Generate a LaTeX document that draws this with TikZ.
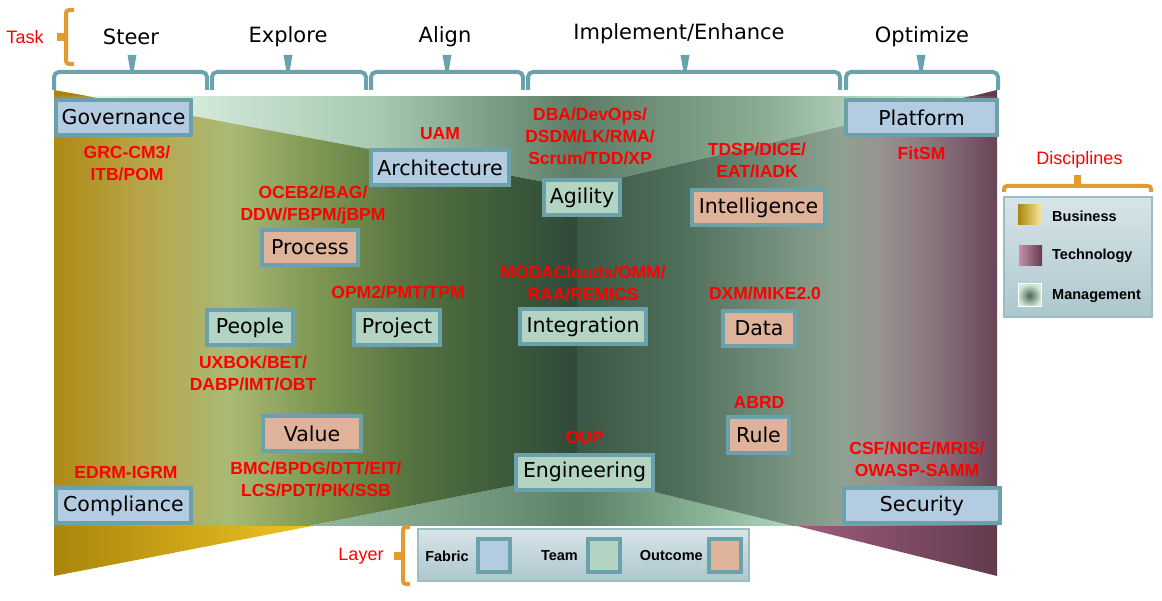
\documentclass[tikz,border=0pt]{standalone}
\usepackage{fontspec}
\setmainfont{DejaVu Sans}
\newfontfamily\methodfont{Liberation Sans}

% layer colours and trims
\definecolor{layerframe}{HTML}{6AA1AB}
\definecolor{fabricblue}{HTML}{B4CCE2}
\definecolor{teamgreen}{HTML}{B3D4C2}
\definecolor{outcomepeach}{HTML}{DFB29A}
\definecolor{braceteal}{HTML}{6BA3AD}
\definecolor{bracketorange}{HTML}{E39B2F}
\definecolor{panelframe}{HTML}{9DBDC5}
\definecolor{goldlight}{HTML}{F0C524}
\definecolor{golddark}{HTML}{A9860B}
\definecolor{plumlight}{HTML}{9E5E7C}
\definecolor{plumdark}{HTML}{633A4E}
\definecolor{rosekey}{HTML}{C48FA7}

% left wall (business)
\definecolor{lwA}{HTML}{AE8A14}
\definecolor{lwB}{HTML}{B8A448}
\definecolor{lwC}{HTML}{A9BA76}
\definecolor{lwD}{HTML}{7C9652}
\definecolor{lwE}{HTML}{52703F}
\definecolor{lwF}{HTML}{3D5C3B}
\definecolor{lwG}{HTML}{30493A}
\pgfdeclarehorizontalshading{leftwall}{100bp}{color(0bp)=(lwA); color(25bp)=(lwA);
  color(33.2bp)=(lwB); color(41.8bp)=(lwC); color(50.4bp)=(lwD); color(60bp)=(lwE);
  color(67.6bp)=(lwF); color(75bp)=(lwG); color(100bp)=(lwG)}
% right wall (technology)
\definecolor{rwA}{HTML}{3B5845}
\definecolor{rwB}{HTML}{4F6E59}
\definecolor{rwC}{HTML}{6D8A76}
\definecolor{rwD}{HTML}{8FA292}
\definecolor{rwE}{HTML}{97938F}
\definecolor{rwF}{HTML}{86707A}
\definecolor{rwG}{HTML}{6A4457}
\pgfdeclarehorizontalshading{rightwall}{100bp}{color(0bp)=(rwA); color(25bp)=(rwA);
  color(37.3bp)=(rwB); color(46.8bp)=(rwC); color(56.3bp)=(rwD); color(61.1bp)=(rwE);
  color(68.2bp)=(rwF); color(75bp)=(rwG); color(100bp)=(rwG)}
% ceiling and floor (management)
\definecolor{clA}{HTML}{EEF6F0}
\definecolor{clB}{HTML}{D2E8D8}
\definecolor{clC}{HTML}{A6C9B0}
\definecolor{clD}{HTML}{5D7D66}
\definecolor{clE}{HTML}{88AB92}
\definecolor{clF}{HTML}{BCD7C3}
\definecolor{clG}{HTML}{D9EBDD}
\pgfdeclarehorizontalshading{ceiling}{100bp}{color(0bp)=(clA); color(25bp)=(clA);
  color(32.7bp)=(clB); color(42.3bp)=(clC); color(52.7bp)=(clD); color(62.4bp)=(clE);
  color(68.8bp)=(clF); color(75bp)=(clG); color(100bp)=(clG)}
\definecolor{flA}{HTML}{B8D4BE}
\definecolor{flB}{HTML}{93B69C}
\definecolor{flC}{HTML}{7A9F84}
\definecolor{flD}{HTML}{5B8166}
\definecolor{flE}{HTML}{86B193}
\definecolor{flF}{HTML}{B2D6BC}
\definecolor{flG}{HTML}{C5E2CC}
\pgfdeclarehorizontalshading{floor}{100bp}{color(0bp)=(flA); color(25bp)=(flA);
  color(38.9bp)=(flB); color(46bp)=(flC); color(52.7bp)=(flD); color(59.2bp)=(flE);
  color(64.2bp)=(flF); color(75bp)=(flG); color(100bp)=(flG)}

\tikzset{
  layerbox/.style={draw=layerframe, line width=4pt, inner xsep=6pt, inner ysep=4pt,
    minimum height=35pt, font=\fontsize{20.5}{24}\selectfont},
  fabric/.style={layerbox, fill=fabricblue},
  team/.style={layerbox, fill=teamgreen},
  outcome/.style={layerbox, fill=outcomepeach},
  method/.style={text=red, align=center, inner sep=0pt,
    font=\methodfont\bfseries\fontsize{17.5}{22}\selectfont},
  heading/.style={font=\fontsize{21}{25}\selectfont},
  keylabel/.style={text=red, font=\methodfont\fontsize{18}{22}\selectfont},
  legendtext/.style={inner sep=0pt, font=\methodfont\bfseries\fontsize{14.5}{17}\selectfont},
  keyswatch/.style={draw=layerframe, line width=4pt, minimum width=32pt,
    minimum height=33pt, inner sep=0pt},
  taskbrace/.style={braceteal, line width=4pt},
  keybracket/.style={bracketorange, line width=4pt},
  legendpanel/.style={draw=panelframe, line width=1.5pt, top color=panelframe!40!white,
    bottom color=panelframe!85!white}
}

\begin{document}
\begin{tikzpicture}[x=1pt, y=-1pt]
    \useasboundingbox (0,0) rectangle (1162,601);
    % corners of the room sticking out of the frame
    \fill[golddark] (54,90) -- (93,97) -- (54,97) -- cycle;
    \shade[left color=golddark, right color=goldlight] (54,525) -- (317,525) -- (54,576) -- cycle;
    \fill[plumdark] (997,90) -- (997,97) -- (969,97) -- cycle;
    \shade[left color=plumlight, right color=plumdark] (793,525) -- (997,525) -- (997,576) -- cycle;
    % the room: ceiling, floor and the two walls meeting in the corner
    \begin{scope}
        \clip (54,97) rectangle (997,525);
        \shade[shading=ceiling] (54,90) -- (997,90) -- (577,188) -- cycle;
        \shade[shading=floor] (54,576) -- (997,576) -- (577,473) -- cycle;
        \shade[shading=leftwall] (54,90) -- (577,188) -- (577,473) -- (54,576) -- cycle;
        \shade[shading=rightwall] (997,90) -- (577,188) -- (577,473) -- (997,576) -- cycle;
    \end{scope}

    % task label and its bracket
    \node[keylabel] (task) at (25,37) {Task};
    \draw[keybracket, rounded corners=3pt] (74,10) -- (66,10) -- (66,64) -- (74,64);
    \fill[bracketorange] (57,33) rectangle (66,41);
    % the five tasks, each with a brace over its columns
    \foreach \a/\b/\m in {54/207/132, 212/366/288, 371/523/447, 528/840/685, 846/998/921} {
        \draw[taskbrace, rounded corners=5pt] (\a,90) -- (\a,72) -- (\b,72) -- (\b,90);
        \fill[braceteal] (\m-4.5,55) -- (\m+4.5,55) -- (\m+1.5,72) -- (\m-1.5,72) -- cycle;
    }
    \node[heading] (steer) at (131,37) {Steer};
    \node[heading] (explore) at (288,37) {Explore};
    \node[heading] (align) at (445,37) {Align};
    \node[heading] (implement) at (679,34) {Implement/Enhance};
    \node[heading] (optimize) at (922,37) {Optimize};

    % fabric layer, in the four corners
    \node[fabric, minimum width=135pt] (governance) at (123.5,117.5) {Governance};
    \node[fabric, minimum width=151pt] (platform) at (921.5,117.5) {Platform};
    \node[fabric, minimum width=135pt] (compliance) at (123.5,505.5) {Compliance};
    \node[fabric, minimum width=156pt] (security) at (922,505.5) {Security};
    \node[fabric, minimum width=137pt] (architecture) at (440,168) {Architecture};
    % team layer
    \node[team, minimum width=74pt] (agility) at (582,197.5) {Agility};
    \node[team, minimum width=86pt] (people) at (250,327.5) {People};
    \node[team, minimum width=86pt] (project) at (397,327.5) {Project};
    \node[team, minimum width=126pt] (integration) at (583,326.5) {Integration};
    \node[team, minimum width=137pt] (engineering) at (584.5,472) {Engineering};
    % outcome layer
    \node[outcome, minimum width=133pt] (intelligence) at (758.5,208) {Intelligence};
    \node[outcome, minimum width=96pt] (process) at (310,247.5) {Process};
    \node[outcome, minimum width=72pt] (data) at (759,328.5) {Data};
    \node[outcome, minimum width=98pt] (value) at (312,433.5) {Value};
    \node[outcome, minimum width=61pt] (rule) at (758.5,435) {Rule};

    % methods belonging to each discipline
    \node[method] (grc) at (127,163) {GRC-CM3/\\ITB/POM};
    \node[method] (uam) at (440,134) {UAM};
    \node[method] (agile) at (590,136) {DBA/DevOps/\\DSDM/LK/RMA/\\Scrum/TDD/XP};
    \node[method] (tdsp) at (757,160) {TDSP/DICE/\\EAT/IADK};
    \node[method] (fitsm) at (921.5,153) {FitSM};
    \node[method] (oceb) at (313,205) {OCEB2/BAG/\\DDW/FBPM/jBPM};
    \node[method] (opm) at (398,292) {OPM2/PMT/TPM};
    \node[method] (moda) at (583,283) {MODAClouds/OMM/\\RAA/REMICS};
    \node[method] (dxm) at (765,293) {DXM/MIKE2.0};
    \node[method] (uxbok) at (253,373) {UXBOK/BET/\\DABP/IMT/OBT};
    \node[method] (abrd) at (759,402) {ABRD};
    \node[method] (oup) at (584.5,437) {OUP};
    \node[method] (bmc) at (316,479) {BMC/BPDG/DTT/EIT/\\LCS/PDT/PIK/SSB};
    \node[method] (edrm) at (126,472) {EDRM-IGRM};
    \node[method] (csf) at (917,459) {CSF/NICE/MRIS/\\OWASP-SAMM};

    % disciplines legend
    \node[keylabel] (disciplines) at (1079.5,160) {Disciplines};
    \draw[keybracket, rounded corners=3pt] (1004,192) -- (1004,186) -- (1151,186) -- (1151,192);
    \fill[bracketorange] (1074,175) rectangle (1081,186);
    \draw[legendpanel] (1004,197) rectangle (1152,317);
    \shade[left color=golddark, middle color=goldlight, right color=goldlight!45!white] (1018,205) rectangle (1041,225);
    \node[legendtext, anchor=west] (business) at (1052,216) {Business};
    \shade[left color=rosekey, right color=plumdark] (1019,246) rectangle (1042,266);
    \node[legendtext, anchor=west] (technology) at (1052,256) {Technology};
    \shade[draw=white, line width=1pt, inner color=clD!80!black, outer color=clB] (1018,284) rectangle (1041,307);
    \node[legendtext, anchor=west] (management) at (1052,296) {Management};

    % layer legend
    \node[keylabel] (layer) at (361,556) {Layer};
    \draw[keybracket, rounded corners=3pt] (410,527) -- (403,527) -- (403,584) -- (410,584);
    \fill[bracketorange] (394,552) rectangle (403,560);
    \draw[legendpanel] (418,529) rectangle (749,581);
    \node[legendtext, anchor=east] (fabric-key) at (469,556) {Fabric};
    \node[keyswatch, fill=fabricblue] (fabric-box) at (493.5,555) {};
    \node[legendtext, anchor=east] (team-key) at (578,556) {Team};
    \node[keyswatch, fill=teamgreen] (team-box) at (603.5,555) {};
    \node[legendtext, anchor=east] (outcome-key) at (703,556) {Outcome};
    \node[keyswatch, fill=outcomepeach] (outcome-box) at (724.5,555) {};
\end{tikzpicture}
\end{document}
